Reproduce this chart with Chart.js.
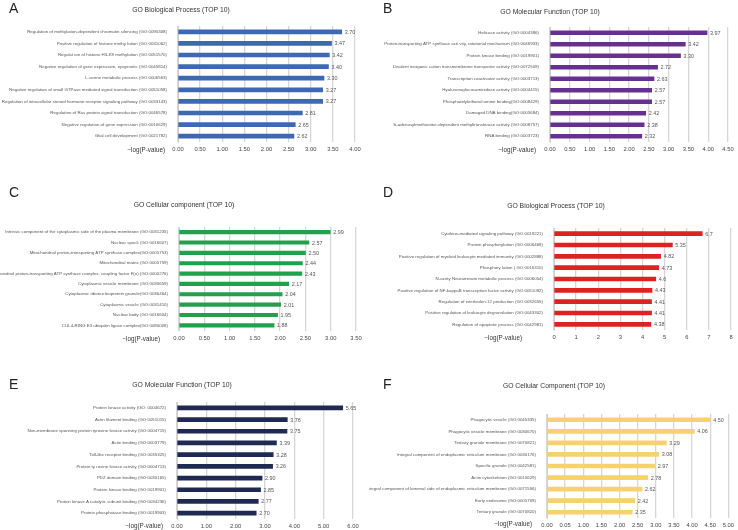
<!DOCTYPE html>
<html>
<head>
<meta charset="utf-8">
<script src="https://cdn.jsdelivr.net/npm/chart.js@4.4.1/dist/chart.umd.min.js"></script>
<style>
  body { margin: 0; background: #fff; }
  #wrap { position: relative; width: 738px; height: 530px; }
  canvas { position: absolute; }
</style>
</head>
<body>
<div id="wrap">
  <canvas id="cA" width="369" height="175" style="left:0;top:0"></canvas>
  <canvas id="cB" width="369" height="175" style="left:369px;top:0"></canvas>
  <canvas id="cC" width="369" height="175" style="left:0;top:175px"></canvas>
  <canvas id="cD" width="369" height="175" style="left:369px;top:175px"></canvas>
  <canvas id="cE" width="369" height="180" style="left:0;top:350px"></canvas>
  <canvas id="cF" width="369" height="180" style="left:369px;top:350px"></canvas>
</div>
<script>
// A - GO Biological Process
const aTerms = [
  "Regulation of methylation-dependent chromatin silencing (GO:0090308)",
  "Positive regulation of histone methy lation (GO:0031062)",
  "Regulat ion of histone H3-K9 methylation (GO:0051570)",
  "Negative regulation of gene expression, epigenetic (GO:0045814)",
  "L-serine metabolic process (GO:0006563)",
  "Negative regulation of small GTPase mediated signal transduction (GO:0051058)",
  "Regulation of intracellular steroid hormone receptor signaling pathway (GO:0033143)",
  "Regulation of Ras protein signal transduction (GO:0046578)",
  "Negative regulation of gene expression (GO:0010629)",
  "Glial cell development (GO:0021782)"
];
const aValues = [3.70, 3.47, 3.42, 3.40, 3.30, 3.27, 3.27, 2.81, 2.65, 2.62];
const aTicks = ["0.00", "0.50", "1.00", "1.50", "2.00", "2.50", "3.00", "3.50", "4.00"];

// B - GO Molecular Function
const bTerms = [
  "Helicase activity (GO:0004386)",
  "Proton-transporting ATP synthase acti vity, rotational mechanism (GO:0046933)",
  "Protein kinase binding (GO:0019901)",
  "Divalent inorganic cation transmembrane transporter activity (GO:0072509)",
  "Transcription coactivator activity (GO:0003713)",
  "Hyaluronoglucosaminidase activity (GO:0004415)",
  "Phosphatidylethanol amine binding(GO:0008429)",
  "Damaged DNA binding(GO:0003684)",
  "S-adenosylmethionine-dependent methyltransferase activity (GO:0008757)",
  "RNA binding (GO:0003723)"
];
const bValues = [3.97, 3.42, 3.30, 2.72, 2.63, 2.57, 2.57, 2.42, 2.38, 2.32];
const bTicks = ["0.00", "0.50", "1.00", "1.50", "2.00", "2.50", "3.00", "3.50", "4.00", "4.50"];

// C - GO Cellular component
const cTerms = [
  "Intrinsic component of the cytoplasmic side of the plasma membrane (GO:0031235)",
  "Nuclear speck (GO:0016607)",
  "Mitochondrial proton-transporting ATP synthase complex(GO:0005753)",
  "Mitochondrial matrix (GO:0005759)",
  "Mitochondrial proton-transporting ATP synthase complex, coupling factor F(o) (GO:0000276)",
  "Cytoplasmic vesicle membrane (GO:0030659)",
  "Cytoplasmic ribonucleoprotein granule(GO:0036464)",
  "Cytoplasmic vesicle (GO:0031410)",
  "Nuclear body (GO:0016604)",
  "CUL4-RING E3 ubiquitin ligase complex(GO:0080008)"
];
const cValues = [2.99, 2.57, 2.50, 2.44, 2.43, 2.17, 2.04, 2.01, 1.95, 1.88];
const cTicks = ["0.00", "0.50", "1.00", "1.50", "2.00", "2.50", "3.00", "3.50"];

// D - GO Biological Process
const dTerms = [
  "Cytokine-mediated signaling pathway (GO:0019221)",
  "Protein phosphorylation (GO:0006468)",
  "Positive regulation of myeloid leukocyte mediated immunity (GO:0002888)",
  "Phosphory lation ( GO:0016310)",
  "N-acety Neuraminate metabolic process (GO:0006054)",
  "Positive regulation of NF-kappaB transcription factor activity (GO:0051092)",
  "Regulation of interleukin-12 production (GO:0032655)",
  "Positive regulation of leukocyte degranulation (GO:0043302)",
  "Regulation of apoptotic process (GO:0042981)"
];
const dValues = [6.7, 5.35, 4.82, 4.73, 4.6, 4.43, 4.41, 4.41, 4.38];
const dTicks = ["0", "1", "2", "3", "4", "5", "6", "7", "8"];

// E - GO Molecular Function
const eTerms = [
  "Protein kinase activity (GO: 0004672)",
  "Actin filament binding (GO:0051015)",
  "Non-membrane spanning protein tyrosine kinase activity (GO:0004715)",
  "Actin binding (GO:0003779)",
  "Toll-like receptor binding (GO:0035325)",
  "Protein ty rosine kinase activity (GO:0004713)",
  "PDZ domain binding (GO:0030165)",
  "Protein kinase binding (GO:0019901)",
  "Protein kinase A catalytic subunit binding (GO:0034236)",
  "Protein phosphatase binding (GO:0019903)"
];
const eValues = [5.65, 3.76, 3.75, 3.39, 3.28, 3.26, 2.90, 2.85, 2.77, 2.70];
const eTicks = ["0.00", "1.00", "2.00", "3.00", "4.00", "5.00", "6.00"];

// F - GO Cellular Component
const fTerms = [
  "Phagocytic vesicle (GO:0045335)",
  "Phagocytic vesicle membrane (GO:0030670)",
  "Tertiary granule membrane (GO:0070821)",
  "Integral component of endoplasmic reticulum membrane (GO:0030176)",
  "Specific granule (GO:0042581)",
  "Actin cytoskeleton (GO:0015629)",
  "Integral component of lumenal side of endoplasmic reticulum membrane (GO:0071556)",
  "Early endosome (GO:0005769)",
  "Tertiary granule (GO:0070820)"
];
const fValues = [4.50, 4.06, 3.29, 3.08, 2.97, 2.78, 2.62, 2.42, 2.35];
const fTicks = ["0.00", "0.05", "1.00", "1.50", "2.00", "2.50", "3.00", "3.50", "4.00", "4.50", "5.00"];

const FONT = "'Liberation Sans', Arial, sans-serif";

// draws letter, title, the -log(P-value) label and the value at each bar end
const decor = {
  id: "decor",
  afterDraw(chart, args, o) {
    const ctx = chart.ctx;
    ctx.save();
    ctx.fillStyle = "#222";
    ctx.font = "14px " + FONT;
    ctx.textAlign = "left";
    ctx.textBaseline = "middle";
    ctx.fillText(o.letter, o.letterX, o.letterY);

    ctx.fillStyle = "#333";
    ctx.font = "6.8px " + FONT;
    ctx.textAlign = "center";
    ctx.fillText(o.title, o.titleX, o.titleY);

    ctx.font = "6.3px " + FONT;
    ctx.textAlign = "right";
    ctx.fillStyle = "#333";
    ctx.fillText("\u2212log(P-value)", o.axisLabelX, o.tickY);

    ctx.fillStyle = "#555";
    ctx.font = "5.4px " + FONT;
    ctx.textAlign = "left";
    const meta = chart.getDatasetMeta(0);
    const vals = chart.data.datasets[0].data;
    meta.data.forEach((bar, i) => {
      ctx.fillText(o.fmt(vals[i]), bar.x + 3, bar.y + 0.5);
    });
    ctx.restore();
  }
};

function makePanel(id, terms, values, ticks, o) {
  const canvas = document.getElementById(id);
  const W = canvas.width, H = canvas.height;
  const xh = 12;
  return new Chart(canvas.getContext("2d"), {
    type: "bar",
    data: {
      labels: terms,
      datasets: [{
        data: values,
        backgroundColor: o.color,
        barThickness: o.barThickness || 4,
        borderWidth: 0
      }]
    },
    options: {
      indexAxis: "y",
      responsive: false,
      animation: false,
      layout: {
        padding: { left: 0, top: o.top, right: W - o.right, bottom: H - o.bottom - xh }
      },
      plugins: {
        legend: { display: false },
        tooltip: { enabled: false },
        decor: o
      },
      scales: {
        x: {
          min: 0,
          max: o.max,
          ticks: {
            stepSize: o.step,
            autoSkip: false,
            maxRotation: 0,
            padding: 4,
            color: "#444",
            font: { family: FONT, size: 5.8 },
            callback: (v, i) => ticks[i]
          },
          grid: { color: "#d6d6d6", lineWidth: 1.3, drawTicks: false },
          border: { display: false },
          afterFit: (s) => { s.height = xh; }
        },
        y: {
          ticks: {
            padding: 3,
            color: "#555",
            font: { family: FONT, size: 4.4 }
          },
          grid: { display: false },
          border: { display: true, color: "#cfcfcf" },
          afterFit: (s) => { s.width = o.left; }
        }
      }
    },
    plugins: [decor]
  });
}

const two = (v) => v.toFixed(2);

makePanel("cA", aTerms, aValues, aTicks, {
  color: "#3d68b3", max: 4, step: 0.5, fmt: two,
  left: 178, right: 355, top: 26, bottom: 142, tickY: 150,
  letter: "A", letterX: 9, letterY: 9,
  title: "GO Biological Process (TOP 10)", titleX: 181, titleY: 10,
  axisLabelX: 165
});
makePanel("cB", bTerms, bValues, bTicks, {
  color: "#663090", max: 4.5, step: 0.5, fmt: two,
  left: 181, right: 359, top: 27, bottom: 142, tickY: 150,
  letter: "B", letterX: 14, letterY: 9,
  title: "GO Molecular Function (TOP 10)", titleX: 181, titleY: 12,
  axisLabelX: 167
});
makePanel("cC", cTerms, cValues, cTicks, {
  color: "#22a04b", max: 3.5, step: 0.5, fmt: two, barThickness: 3.5,
  left: 179, right: 356, top: 52, bottom: 155.5, tickY: 164,
  letter: "C", letterX: 9, letterY: 18,
  title: "GO Cellular component (TOP 10)", titleX: 184, titleY: 30,
  axisLabelX: 160
});
makePanel("cD", dTerms, dValues, dTicks, {
  color: "#dd2222", max: 8, step: 1, fmt: (v) => String(v),
  left: 185, right: 362, top: 53, bottom: 155, tickY: 163,
  letter: "D", letterX: 14, letterY: 18,
  title: "GO Biological Process (TOP 10)", titleX: 187, titleY: 31,
  axisLabelX: 153
});
makePanel("cE", eTerms, eValues, eTicks, {
  color: "#1f2a52", max: 6, step: 1, fmt: two,
  left: 177, right: 353, top: 52, bottom: 169, tickY: 176,
  letter: "E", letterX: 9, letterY: 35,
  title: "GO Molecular Function (TOP 10)", titleX: 182, titleY: 35,
  axisLabelX: 163
});
makePanel("cF", fTerms, fValues, fTicks, {
  color: "#f5d26e", max: 5, step: 0.5, fmt: two,
  left: 178, right: 361, top: 64, bottom: 168, tickY: 174,
  letter: "F", letterX: 14, letterY: 35,
  title: "GO Cellular Component (TOP 10)", titleX: 185, titleY: 36,
  axisLabelX: 163
});
</script>
</body>
</html>
